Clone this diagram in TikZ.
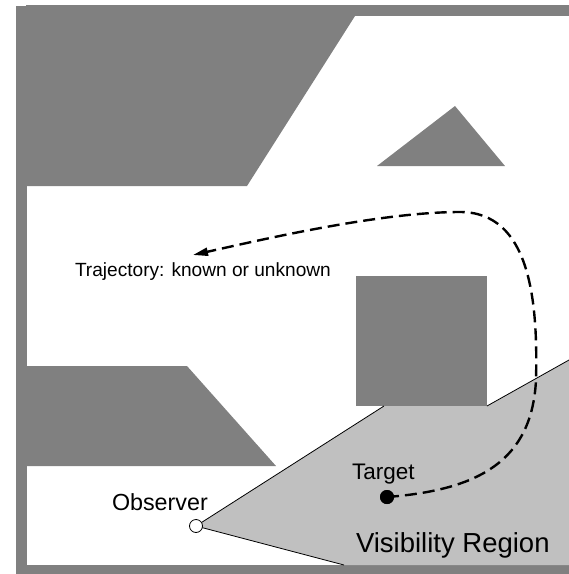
\documentclass[tikz,border=0pt]{standalone}
\usepackage{fontspec}
\setmainfont{Liberation Sans}
\usetikzlibrary{arrows.meta}
\definecolor{wall}{HTML}{808080}
\definecolor{vis}{HTML}{C0C0C0}
\tikzset{
  obst/.style={fill=wall, draw=none},
  lbl/.style={anchor=base west, inner sep=0pt, outer sep=0pt},
  traj/.style={line width=2.4pt, dash pattern=on 12pt off 6pt, -{Triangle[length=15pt,width=8pt]}},
  edge/.style={line width=0.8pt, draw=black}
}
\begin{document}
\begin{tikzpicture}[x=1pt,y=-1pt]
\useasboundingbox (0,0) rectangle (569,574);
% frame
\fill[wall] (26,5) rectangle (569,16);
\fill[wall] (16,6) rectangle (26.5,574);
\fill[wall] (16,565) rectangle (569,574);
% obstacles
\fill[wall] (26,16) -- (355,16) -- (247,186) -- (26,186) -- cycle;
\fill[wall] (455,106) -- (505,166) -- (377,166) -- cycle;
\fill[wall] (26,366) -- (187,366) -- (276,466) -- (26,466) -- cycle;
% visibility region
\coordinate (obs) at (196,526);
\coordinate (v1) at (384,406);
\coordinate (v2) at (487,406);
\coordinate (v3) at (569,360);
\coordinate (v4) at (569,565);
\coordinate (v5) at (344,565);
\fill[vis] (obs) -- (v1) -- (v2) -- (v3) -- (v4) -- (v5) -- cycle;
\fill[wall] (356,276) rectangle (487,406);
\draw[edge] (obs) -- (v1);
\draw[edge] (v2) -- (v3);
\draw[edge] (obs) -- (v5);
% labels
\node[lbl, font=\fontsize{19.1}{22}\selectfont] (tl) at (75,276) {Trajectory: known or unknown};
\node[lbl, font=\fontsize{22.5}{26}\selectfont] (tg) at (352,479) {Target};
\node[lbl, font=\fontsize{23.3}{27}\selectfont] (ob) at (112,510) {Observer};
\node[lbl, font=\fontsize{27.5}{32}\selectfont] (vr) at (356,552) {Visibility Region};
% trajectory
\coordinate (tip) at (193,255);
\node[circle, fill=black, inner sep=0pt, minimum size=14pt] (target) at (387,497) {};
\draw[traj] (target.center) .. controls (480,490) and (532,460) .. (536,380)
  .. controls (538,300) and (530,212) .. (460,212)
  .. controls (380,212) and (260,240) .. (tip);
\fill[black] (target) circle (7pt);
% observer
\node[circle, draw=black, fill=white, line width=0.8pt, inner sep=0pt, minimum size=13pt] (observer) at (obs) {};
\end{tikzpicture}
\end{document}
